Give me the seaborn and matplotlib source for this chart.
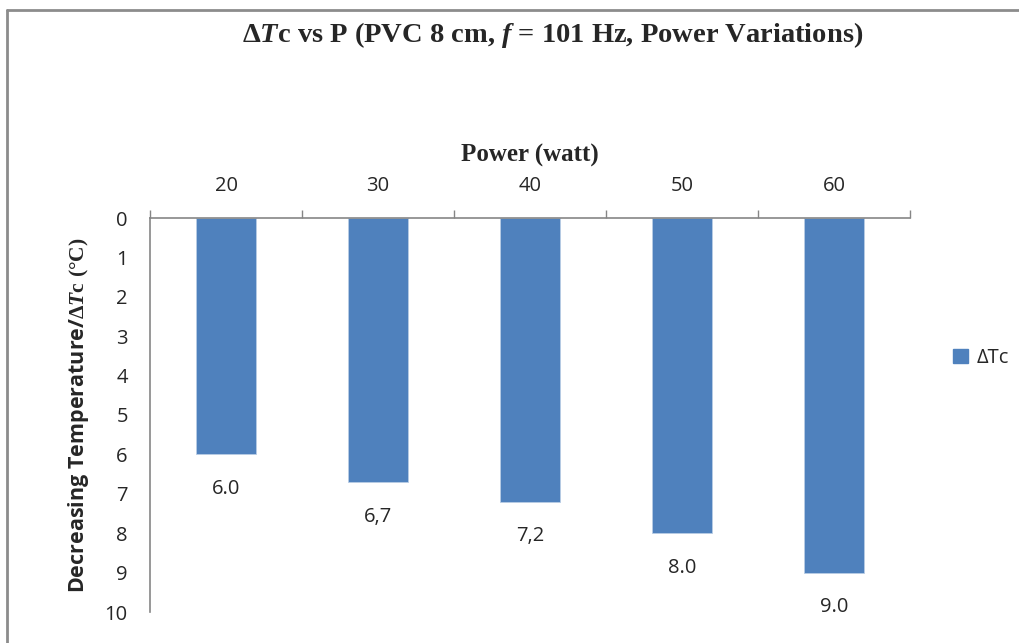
import pandas as pd
import numpy as np
import matplotlib
matplotlib.use("Agg")
import matplotlib.pyplot as plt
import seaborn as sns
from matplotlib.lines import Line2D
from matplotlib.patches import Patch

# data
power = ["20", "30", "40", "50", "60"]
delta_tc = [6.0, 6.7, 7.2, 8.0, 9.0]
value_labels = ["6.0", "6,7", "7,2", "8.0", "9.0"]
y_ticks = list(range(0, 11))

df = pd.DataFrame({"Power": power, "dTc": delta_tc})

sns.set_style("white")
plt.rcParams['font.family'] = ['Open Sans', 'DejaVu Sans']
plt.rcParams['mathtext.fontset'] = 'custom'
plt.rcParams['mathtext.rm'] = 'Liberation Serif:bold'
plt.rcParams['mathtext.it'] = 'Liberation Serif:bold:italic'
plt.rcParams['mathtext.bf'] = 'Liberation Serif:bold'

fig = plt.figure(figsize=(10.19, 6.43), dpi=100)
ax = fig.add_axes([150 / 1019, 1 - 612 / 643, 760 / 1019, 394 / 643])

bar_color = "#4F81BD"
sns.barplot(data=df, x="Power", y="dTc", color=bar_color, width=0.4,
            saturation=1, ax=ax, edgecolor="#B9CDE5", linewidth=0.6)

ax.set_ylim(10, 0)
ax.set_xlim(-0.5, 4.5)
ax.set_yticks(y_ticks)
ax.set_yticklabels([str(t) for t in y_ticks], fontsize=14.5)

# x axis on top, labels centered, ticks at category boundaries
ax.xaxis.tick_top()
ax.xaxis.set_label_position("top")
ax.set_xticks(range(len(power)))
ax.set_xticklabels(power, fontsize=14.5)
ax.set_xticks(np.arange(-0.5, 5, 1), minor=True)
ax.tick_params(axis="x", which="major", length=0, pad=16)
ax.tick_params(axis="x", which="minor", length=6, color="#868686", width=1,
               direction="out", top=True, bottom=False)
ax.tick_params(axis="y", length=8, color="#868686", width=1, direction="out", pad=8)

for s in ["right", "bottom"]:
    ax.spines[s].set_visible(False)
for s in ["top", "left"]:
    ax.spines[s].set_color("#868686")
    ax.spines[s].set_linewidth(1.2)

ax.set_xlabel("Power (watt)", fontsize=18, fontweight="bold",
              family="Liberation Serif", labelpad=10)
ax.set_ylabel(r"Decreasing Temperature/$\Delta\mathit{T}\mathrm{c\ (°C)}$",
              fontsize=15.5, fontweight="bold", labelpad=10)

for i, (v, lab) in enumerate(zip(delta_tc, value_labels)):
    ax.annotate(lab, (i, v), xytext=(0, -25), textcoords="offset points",
                ha="center", va="center", fontsize=14.5)

handle = Patch(facecolor=bar_color, edgecolor=bar_color)
fig.legend([handle], [r"ΔTc"], loc="center left", bbox_to_anchor=(935 / 1019, 1 - 358 / 643),
           frameon=False, fontsize=14.5, handlelength=0.75, handleheight=0.75, handletextpad=0.4)

fig.text(0.542, 1 - 35 / 643,
         r"$\Delta\mathit{T}$c vs P (PVC 8 cm, $\mathit{f}$ = 101 Hz, Power Variations)",
         ha="center", va="center", fontsize=20.5, fontweight="bold", family="Liberation Serif")

# frame lines at top and left of the picture
fig.add_artist(Line2D([7 / 1019, 1], [1 - 10 / 643, 1 - 10 / 643], color="#8c8c8c", lw=2,
                      transform=fig.transFigure))
fig.add_artist(Line2D([7 / 1019, 7 / 1019], [0, 1 - 10 / 643], color="#8c8c8c", lw=2,
                      transform=fig.transFigure))

fig.savefig("out.png", dpi=100)
